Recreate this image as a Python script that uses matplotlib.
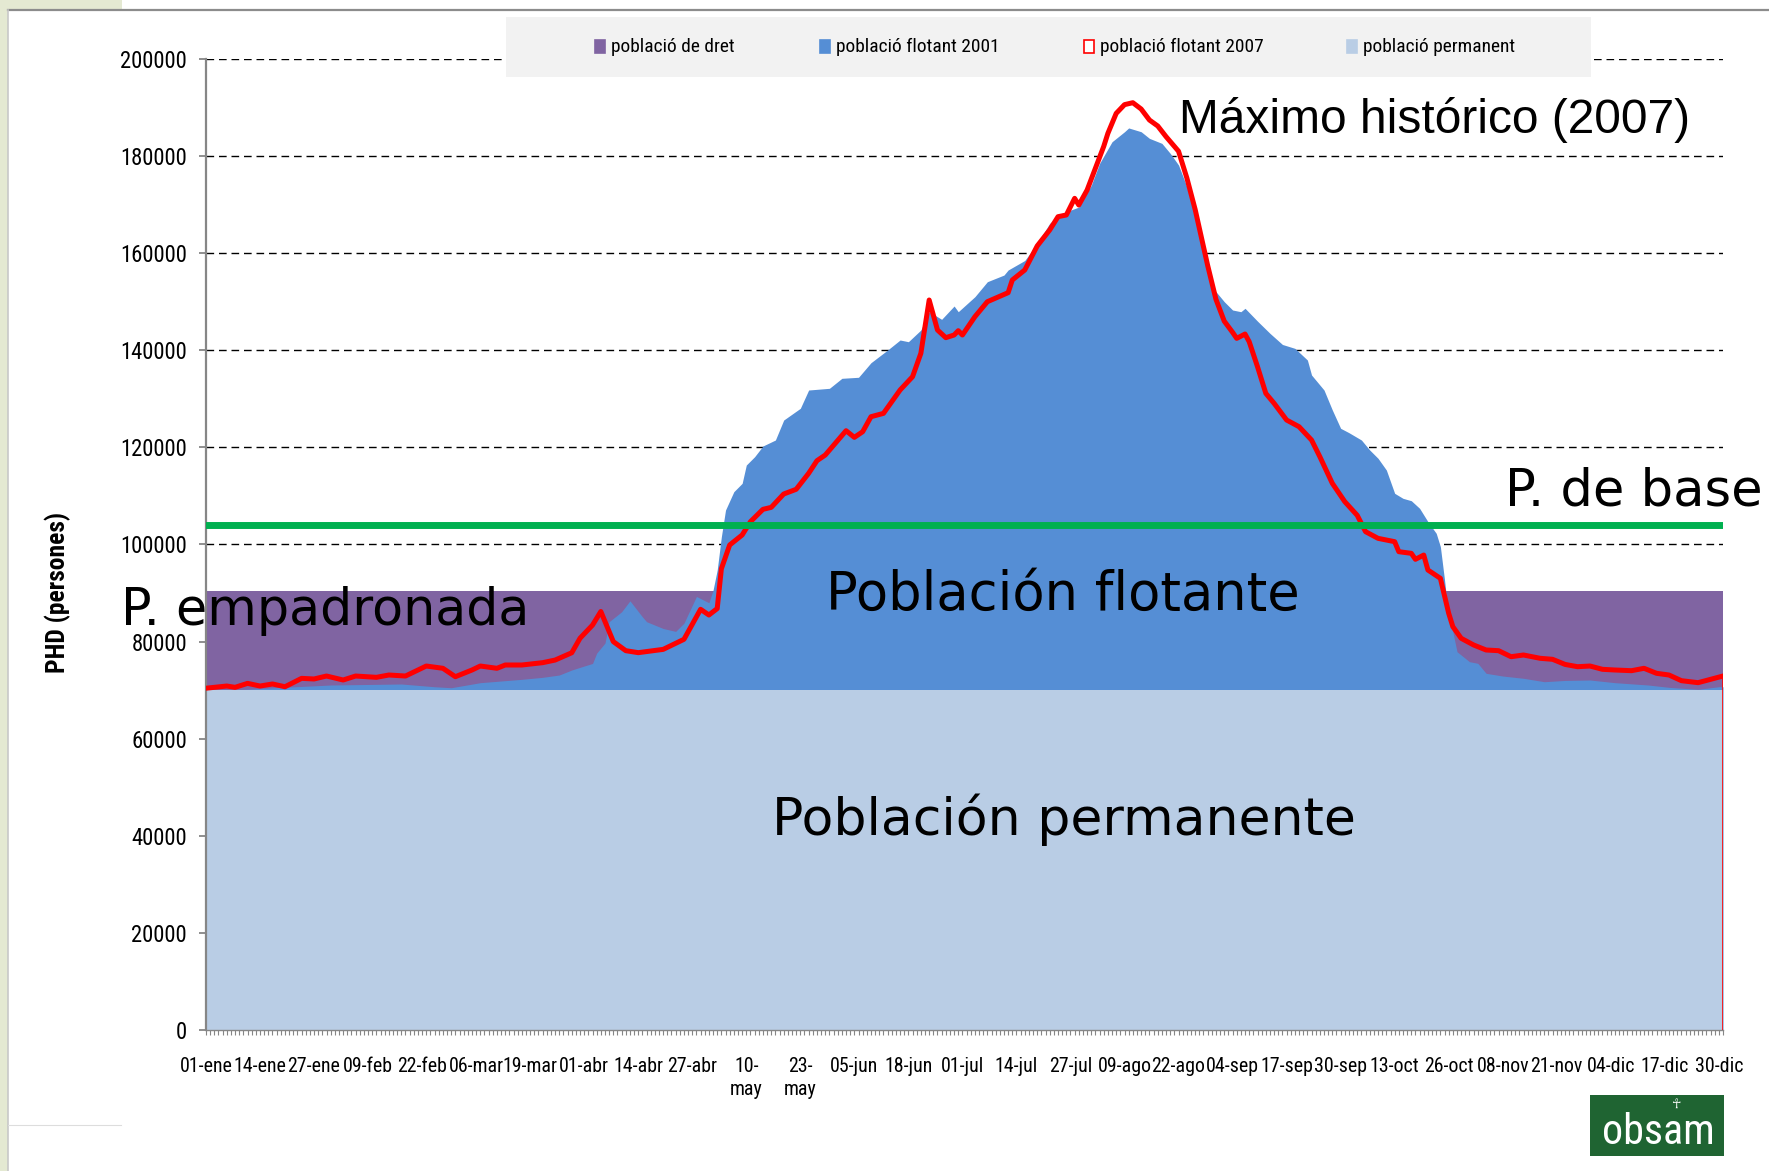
import numpy as np
import matplotlib
matplotlib.use("Agg")
import matplotlib.pyplot as plt
from matplotlib import font_manager
from matplotlib.font_manager import FontProperties
from matplotlib.textpath import TextPath
from matplotlib.patches import Rectangle
from matplotlib.lines import Line2D


def narrow_font(bold=False):
    # first condensed sans face found on the system, else plain DejaVu
    prefs = ['Liberation Sans Narrow', 'Roboto Condensed', 'Open Sans', 'Noto Sans',
             'Lato', 'DejaVu Sans']
    want = 700 if bold else 400
    best, best_rank = None, None
    for f in font_manager.fontManager.ttflist:
        stretch = str(f.stretch).lower()
        narrow = ('Narrow' in f.name or 'Condensed' in f.name
                  or stretch in ('condensed', 'semi-condensed'))
        if not narrow or 'Extra' in f.name or 'Ultra' in f.name or f.style != 'normal':
            continue
        w = f.weight if isinstance(f.weight, int) else font_manager.weight_dict.get(f.weight, 400)
        if w != want:
            continue
        rank = next((i for i, p in enumerate(prefs) if f.name.startswith(p)), len(prefs))
        if best_rank is None or rank < best_rank:
            best, best_rank = f.fname, rank
    if best:
        return FontProperties(fname=best)
    return FontProperties(family='DejaVu Sans', weight='bold' if bold else 'normal')


def fit_size(text, fp, width_px):
    fp = fp.copy()
    fp.set_size(10)
    w = TextPath((0, 0), text, prop=fp).get_extents().width * 100 / 72
    return 10 * width_px / w


def sized(fp, size):
    fp = fp.copy()
    fp.set_size(size)
    return fp


NARROW = narrow_font()
NARROW_B = narrow_font(bold=True)
ARIAL = 'Liberation Sans'
WIDE = 'DejaVu Sans'

#----------------------------------------------------------------------
# Data (persones per dia de l'any, 0 = 01-ene)
#----------------------------------------------------------------------
dies_2007 = [0, 5, 7, 10, 13, 16, 19, 23, 26, 29, 33, 36, 41, 44, 48, 53, 57, 60,
             64, 66, 70, 72, 76, 81, 84, 88, 90, 93, 95, 98, 101, 104, 110, 113,
             115, 118, 119, 121, 123, 124, 126, 129, 131, 134, 136, 139, 142, 145,
             147, 149, 154, 156, 158, 160, 163, 167, 170, 172, 174, 176, 178, 180,
             181, 182, 185, 188, 193, 194, 197, 200, 203, 205, 207, 209, 210, 212,
             214, 216, 217, 219, 221, 223, 225, 227, 229, 231, 234, 236, 238, 241,
             243, 245, 247, 248, 250, 251, 253, 255, 257, 260, 263, 266, 268, 271,
             274, 277, 279, 282, 286, 287, 290, 291, 293, 294, 297, 299, 300, 302,
             305, 308, 311, 314, 317, 321, 324, 327, 330, 333, 336, 339, 343, 346,
             349, 352, 355, 359, 362, 365]
flotant_2007 = [70400, 70850, 70580, 71400, 70850, 71270, 70700, 72430, 72300, 72910,
                72090, 72910, 72640, 73120, 72910, 74970, 74500, 72770, 74150, 74970,
                74500, 75180, 75180, 75660, 76200, 77700, 80700, 83400, 86200, 80000,
                78130, 77720, 78400, 79640, 80470, 85140, 86650, 85480, 86800, 95000,
                99900, 101960, 104700, 107240, 107650, 110400, 111370, 114660, 117260,
                118430, 123440, 122070, 123230, 126320, 127010, 131820, 134560, 139380,
                150360, 144180, 142600, 143150, 144040, 143150, 146920, 150010, 151870,
                154480, 156540, 161500, 164780, 167520, 167870, 171300, 169920, 173010,
                177500, 182000, 184690, 188800, 190600, 191000, 189700, 187430, 186200,
                184000, 181000, 175500, 169000, 157500, 150500, 146000, 143700, 142460,
                143350, 141770, 136620, 131130, 129070, 125640, 124260, 121520, 118080,
                112600, 108820, 106000, 102640, 101270, 100580, 98520, 98180, 96950,
                97830, 94750, 93030, 85830, 83070, 80680, 79300, 78270, 78130, 76890,
                77240, 76560, 76350, 75300, 74830, 74970, 74290, 74150, 74010, 74500,
                73470, 73120, 71950, 71540, 72230, 72910]

dies_2001 = [0, 10, 19, 30, 47, 55, 59, 66, 76, 81, 85, 88, 91, 93, 94, 96, 97, 100,
             102, 105, 106, 110, 113, 115, 118, 121, 122, 123, 124, 125, 127, 129,
             130, 132, 134, 137, 139, 143, 145, 150, 153, 157, 160, 164, 167, 169,
             172, 174, 177, 180, 181, 185, 188, 192, 193, 197, 200, 203, 206, 210,
             213, 215, 218, 221, 222, 225, 227, 230, 232, 234, 236, 238, 240, 242,
             245, 247, 249, 250, 253, 256, 259, 262, 265, 266, 269, 271, 273, 275,
             278, 280, 282, 284, 286, 288, 290, 292, 294, 296, 297, 298, 299, 300,
             301, 304, 306, 308, 312, 317, 322, 327, 333, 339, 347, 352, 359, 364,
             365]
flotant_2001 = [70000, 70200, 70600, 71060, 71270, 70700, 70500, 71540, 72230, 72640,
                73120, 74150, 74970, 75500, 77630, 79700, 84100, 86150, 88400, 85100,
                84100, 82700, 82100, 83800, 89300, 88000, 90600, 94750, 101600, 107100,
                110880, 112600, 116370, 118080, 120290, 121520, 125640, 128050, 131820,
                132170, 134230, 134440, 137450, 140060, 142120, 141770, 144180, 147950,
                146380, 149120, 147950, 151040, 154130, 155500, 156540, 158500, 162000,
                166150, 168220, 169500, 174000, 178500, 182960, 185020, 185800, 185020,
                183650, 182620, 180560, 178160, 173690, 167520, 160660, 153100, 150010,
                148300, 147950, 148650, 146000, 143490, 141200, 140400, 138000, 134910,
                131820, 127700, 123930, 123030, 121520, 119460, 117750, 115340, 110540,
                109510, 109020, 107450, 104700, 102300, 99550, 92690, 85000, 82000,
                77920, 75860, 75530, 73470, 72910, 72440, 71740, 72000, 72090, 71540,
                71060, 70580, 70170, 70710, 70700]

dies_any = [0, 365]
poblacio_dret = [90400, 90400]
poblacio_permanent = [70000, 70000]
poblacio_base = [104000, 104000]

etiquetes_x = ['01-ene', '14-ene', '27-ene', '09-feb', '22-feb', '06-mar', '19-mar',
               '01-abr', '14-abr', '27-abr', '10-\nmay', '23-\nmay', '05-jun', '18-jun',
               '01-jul', '14-jul', '27-jul', '09-ago', '22-ago', '04-sep', '17-sep',
               '30-sep', '13-oct', '26-oct', '08-nov', '21-nov', '04-dic', '17-dic',
               '30-dic']

C_DRET = '#8064A2'
C_2001 = '#558ED5'
C_PERM = '#B9CDE5'
C_2007 = '#FF0000'
C_BASE = '#00B050'
GRIS = '#868686'

W, H = 1769, 1171


def px(x, y):
    return x / W, 1 - y / H


fig = plt.figure(figsize=(W / 100, H / 100), dpi=100)
fig.patch.set_facecolor('white')

# slide background strips and panel border
fig.add_artist(Rectangle((0, 0), 8 / W, 1, transform=fig.transFigure,
                         facecolor='#E4E9D2', edgecolor='none', zorder=0))
fig.add_artist(Rectangle(px(0, 10), 122 / W, 10 / H, transform=fig.transFigure,
                         facecolor='#E4E9D2', edgecolor='none', zorder=0))
fig.add_artist(Line2D([8 / W, 1], [1 - 10 / H, 1 - 10 / H], transform=fig.transFigure,
                      color='#8C8C8C', lw=1.6))
fig.add_artist(Line2D([8 / W, 8 / W], [0, 1 - 10 / H], transform=fig.transFigure,
                      color='#C8C8C8', lw=1.2))
fig.add_artist(Line2D([8 / W, 121 / W], [1 - 1125 / H, 1 - 1125 / H],
                      transform=fig.transFigure, color='#DDDDDD', lw=0.8))

ax = fig.add_axes([206 / W, 141 / H, 1517 / W, 971 / H])

ax.fill_between(dies_any, 0, poblacio_dret, color=C_DRET, lw=0, zorder=1)
ax.fill_between(dies_2001, 0, flotant_2001, color=C_2001, lw=0, zorder=1.1)
ax.fill_between(dies_any, 0, poblacio_permanent, color=C_PERM, lw=0, zorder=1.2)
ax.plot(dies_2007, flotant_2007, color=C_2007, lw=3.6, solid_joinstyle='round', zorder=3)
ax.vlines(dies_2007[-1], 0, flotant_2007[-1], color=C_2007, lw=1.2, zorder=3)
ax.plot(dies_any, poblacio_base, color=C_BASE, lw=5, zorder=3.5)

ax.set_xlim(0, 365)
ax.set_ylim(0, 200000)

ax.set_yticks(np.arange(0, 200001, 20000))
ax.set_yticklabels([str(v) for v in range(0, 200001, 20000)])
ax.set_xticks(np.arange(0, 365, 13))
ax.set_xticklabels(etiquetes_x)
ax.set_xticks(np.arange(0, 366), minor=True)

ax.grid(axis='y', color='black', lw=1.0, linestyle=(0, (5.5, 3.5)))
ax.set_axisbelow(True)
for s in ('top', 'right'):
    ax.spines[s].set_visible(False)
ax.spines['left'].set_color(GRIS)
ax.spines['left'].set_linewidth(1.6)
ax.spines['bottom'].set_color(GRIS)
ax.spines['bottom'].set_linewidth(1.0)

ax.tick_params(axis='y', length=4.7, width=1.3, color=GRIS, pad=9)
ax.tick_params(axis='x', which='both', length=3.5, width=0.8, color=GRIS)
ax.tick_params(axis='x', which='major', pad=16)

fp_y = sized(NARROW, fit_size('200000', NARROW, 65))
for t in ax.get_yticklabels():
    t.set_fontproperties(fp_y)
fp_x = sized(NARROW, fit_size('01-ene', NARROW, 51))
for t in ax.get_xticklabels():
    t.set_fontproperties(fp_x)
    t.set_linespacing(1.25)

fig.text(*px(58, 592), 'PHD (persones)', rotation=90, ha='center', va='center',
         fontproperties=sized(NARROW_B, fit_size('PHD (persones)', NARROW_B, 158)))

# annotations over the areas
ax.text(234, 184700, 'Máximo histórico (2007)', fontsize=34.5, family=ARIAL,
        va='baseline', ha='left', zorder=5)
ax.text(312.5, 108000, 'P. de base', fontsize=36.8, family=WIDE,
        va='baseline', ha='left', clip_on=False, zorder=5)
ax.text(-20.4, 83500, 'P. empadronada', fontsize=36.5, family=WIDE,
        va='baseline', ha='left', clip_on=False, zorder=5)
ax.text(149.2, 86500, 'Población flotante', fontsize=38, family=WIDE,
        va='baseline', ha='left', zorder=5)
ax.text(136.1, 40200, 'Población permanente', fontsize=37.5, family=WIDE,
        va='baseline', ha='left', zorder=5)

# legend strip
fig.add_artist(Rectangle(px(506, 77), (1591 - 506) / W, 60 / H, transform=fig.transFigure,
                         facecolor='#F2F2F2', edgecolor='none', zorder=4))
fp_leg = sized(NARROW, fit_size('població de dret', NARROW, 122))
entrades = [('població de dret', C_DRET, C_DRET, 595),
            ('població flotant 2001', C_2001, C_2001, 820),
            ('població flotant 2007', 'white', C_2007, 1084),
            ('població permanent', C_PERM, C_PERM, 1347)]
for text, fc, ec, x0 in entrades:
    fig.add_artist(Rectangle(px(x0, 53), 10 / W, 13 / H, transform=fig.transFigure,
                             facecolor=fc, edgecolor=ec, lw=1.2, zorder=5))
    fig.text(*px(x0 + 16, 47), text, ha='left', va='center',
             fontproperties=fp_leg, zorder=6)

# logo
fig.add_artist(Rectangle(px(1590, 1156), 134 / W, 61 / H, transform=fig.transFigure,
                         facecolor='#1F6432', edgecolor='none', zorder=4))
fig.text(*px(1658, 1133), 'obsam', ha='center', va='center', color='white', zorder=5,
         fontproperties=sized(NARROW, fit_size('obsam', NARROW, 108)))
fig.text(*px(1677, 1104), '☥', ha='center', va='center', fontsize=9,
         family='DejaVu Sans', color='white', zorder=5)

fig.savefig('out.png', dpi=100)
